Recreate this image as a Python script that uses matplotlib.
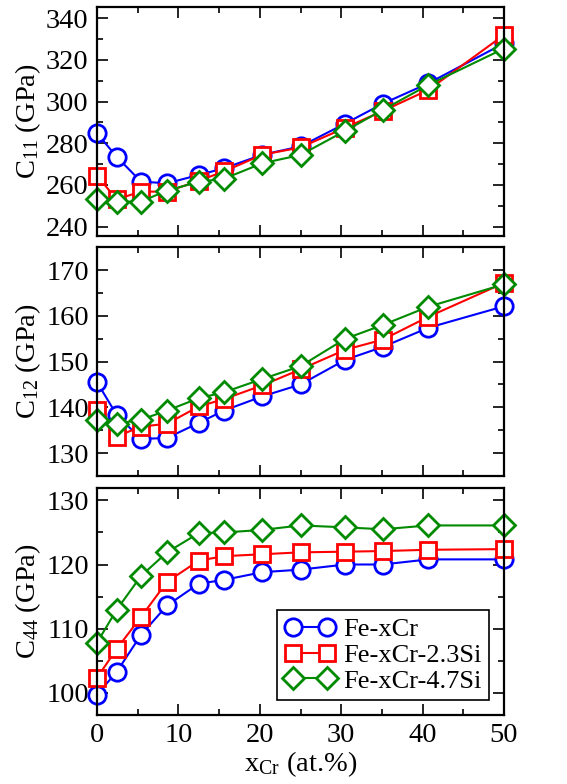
import matplotlib
matplotlib.use("Agg")
import matplotlib.pyplot as plt
from matplotlib.ticker import MultipleLocator

plt.rcParams['font.family'] = ['Liberation Serif', 'DejaVu Serif']
plt.rcParams['mathtext.fontset'] = 'custom'
plt.rcParams['mathtext.rm'] = 'Liberation Serif'
plt.rcParams['mathtext.it'] = 'Liberation Serif:italic'

# Cr content (at.%)
x_cr = [0, 2.4, 5.4, 8.6, 12.5, 15.6, 20.3, 25.0, 30.5, 35.1, 40.7, 50.0]

series_names = ["Fe-xCr", "Fe-xCr-2.3Si", "Fe-xCr-4.7Si"]

# elastic constants (GPa) for each alloy series
c11_fecr = [284.8, 273.6, 261.6, 260.8, 264.8, 268.0, 274.5, 278.5, 289.5, 299.0, 308.8, 328.0]
c11_si23 = [264.5, 253.1, 256.8, 256.8, 262.0, 266.5, 274.5, 278.0, 287.5, 295.5, 305.6, 332.0]
c11_si47 = [253.1, 252.0, 252.0, 257.3, 261.5, 263.0, 270.4, 274.4, 286.0, 296.0, 308.0, 325.5]

c12_fecr = [145.5, 138.4, 133.1, 133.3, 136.6, 139.3, 142.4, 145.0, 150.4, 153.2, 157.4, 162.1]
c12_si23 = [139.5, 133.6, 135.8, 136.4, 140.2, 141.8, 144.8, 148.3, 152.6, 154.8, 159.8, 167.2]
c12_si47 = [137.3, 136.4, 137.3, 139.3, 142.0, 143.3, 146.2, 149.0, 155.0, 158.0, 162.0, 166.9]

c44_fecr = [99.7, 103.2, 109.0, 113.6, 117.0, 117.6, 118.8, 119.2, 120.0, 120.0, 120.8, 120.8]
c44_si23 = [102.3, 106.8, 111.8, 117.3, 120.6, 121.3, 121.6, 121.9, 122.0, 122.1, 122.3, 122.4]
c44_si47 = [107.8, 112.9, 118.2, 121.9, 124.9, 125.0, 125.4, 126.1, 125.8, 125.5, 126.1, 126.1]

panels = [
    ("C$_{11}$ (GPa)", [c11_fecr, c11_si23, c11_si47], (235.5, 345.3), 20, 10),
    ("C$_{12}$ (GPa)", [c12_fecr, c12_si23, c12_si47], (125, 175), 10, 5),
    ("C$_{44}$ (GPa)", [c44_fecr, c44_si23, c44_si47], (96.5, 132), 10, 5),
]

colors = ["#0000ff", "#ff0000", "#008a00"]
markers = ["o", "s", "D"]
msizes = [12.5, 11.5, 11.5]

fig = plt.figure(figsize=(5.67, 7.84), dpi=100)
rects = [
    [0.1711, 0.699, 0.7178, 0.2917],
    [0.1711, 0.3929, 0.7178, 0.2917],
    [0.1711, 0.088, 0.7178, 0.290],
]

axes = []
for rect, (ylab, data, ylim, major, minor) in zip(rects, panels):
    ax = fig.add_axes(rect)
    for vals, c, m, ms, name in zip(data, colors, markers, msizes, series_names):
        ax.plot(x_cr, vals, color=c, marker=m, markersize=ms, markerfacecolor="white",
                markeredgecolor=c, markeredgewidth=2, linewidth=1.5, label=name,
                clip_on=False)
    ax.set_xlim(0, 50)
    ax.set_ylim(*ylim)
    ax.xaxis.set_major_locator(MultipleLocator(10))
    ax.xaxis.set_minor_locator(MultipleLocator(5))
    ax.yaxis.set_major_locator(MultipleLocator(major))
    ax.yaxis.set_minor_locator(MultipleLocator(minor))
    ax.tick_params(which="both", direction="in", top=True, right=True,
                   labelsize=20.5, width=1.2, pad=6)
    ax.tick_params(which="major", length=8)
    ax.tick_params(which="minor", length=4.5)
    for sp in ax.spines.values():
        sp.set_linewidth(1.6)
    ax.set_ylabel(ylab, fontsize=20.5, labelpad=2)
    axes.append(ax)

for ax in axes[:-1]:
    ax.tick_params(labelbottom=False)

axes[-1].set_xlabel("x$_{\\mathrm{Cr}}$ (at.%)", fontsize=20.5, labelpad=1)
leg = axes[-1].legend(loc="lower right", fontsize=19, numpoints=2, handlelength=1.9,
                      labelspacing=0.08, handletextpad=0.3, borderpad=0.3,
                      borderaxespad=0.55, fancybox=False, framealpha=1)
leg.get_frame().set_edgecolor("black")
leg.get_frame().set_linewidth(1.2)

fig.align_ylabels(axes)
fig.savefig("out.png", dpi=100)
